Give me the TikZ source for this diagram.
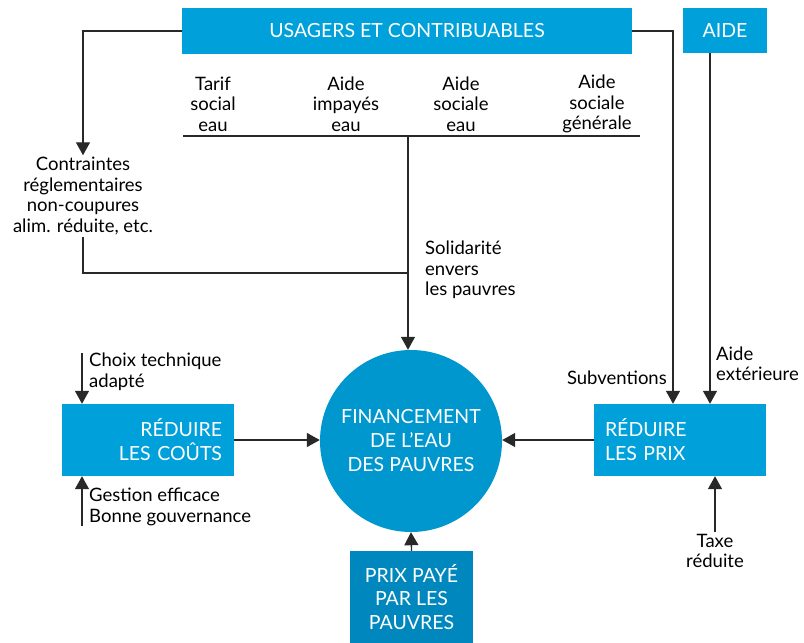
\documentclass[tikz,border=0pt]{standalone}
\usepackage{fontspec}
\setmainfont{Lato}
\usetikzlibrary{positioning,arrows.meta}
\definecolor{boxblue}{RGB}{0,160,218}
\definecolor{circblue}{RGB}{0,150,206}
\definecolor{deepblue}{RGB}{0,136,190}
\definecolor{linegray}{RGB}{40,40,40}

\begin{document}
\begin{tikzpicture}[x=1pt, y=-1pt,
  bluebox/.style={fill=boxblue, text=white, inner sep=0pt, align=center,
    font=\fontsize{19.5}{24}\selectfont},
  lbl/.style={inner sep=0pt, align=center, text=black,
    font=\fontsize{18.5}{20.5}\selectfont},
  wire/.style={line width=1.3pt, linegray},
  arr/.style={wire, -{Triangle[length=13pt, width=14pt]}},
]
  \useasboundingbox (0,0) rectangle (804,643);

  % blue blocks
  \node[bluebox, minimum width=450pt, minimum height=46pt] (users) at (407,31)
    {USAGERS ET CONTRIBUABLES};
  \node[bluebox, minimum width=84pt, minimum height=45pt] (aide) at (725,30.5)
    {AIDE};
  \node[bluebox, circle, fill=circblue, minimum size=182pt] (fin) at (411,441)
    {FINANCEMENT\\DE L'EAU\\DES PAUVRES};
  \node[bluebox, minimum height=72pt, text width=148pt, inner xsep=12pt,
    align=right] (couts) at (148,440) {RÉDUIRE\\LES COÛTS};
  \node[bluebox, minimum height=72pt, text width=150pt, inner xsep=11pt,
    align=left] (prix) at (680,440) {RÉDUIRE\\LES PRIX};
  \node[bluebox, fill=deepblue, minimum width=123pt, minimum height=92pt,
    font=\fontsize{19.5}{23.5}\selectfont] (paye) at (411.5,597)
    {PRIX PAYÉ\\PAR LES\\PAUVRES};

  % labels
  \node[lbl] (tarif) at (213,104) {Tarif\\social\\eau};
  \node[lbl] (impayes) at (346,104) {Aide\\impayés\\eau};
  \node[lbl] (sociale) at (461,104) {Aide\\sociale\\eau};
  \node[lbl] (generale) at (597,104) {Aide\\sociale\\générale};
  \node[lbl, outer sep=2pt] (constr) at (83,196)
    {Contraintes\\réglementaires\\non-coupures\\alim. réduite, etc.};
  \node[lbl, anchor=west, align=left] (solid) at (425,270)
    {Solidarité\\envers\\les pauvres};
  \node[lbl, anchor=west, align=left] (choix) at (89,372)
    {Choix technique\\adapté};
  \node[lbl, anchor=west, align=left] (gestion) at (89,507)
    {Gestion efficace\\Bonne gouvernance};
  \node[lbl, anchor=east] (subv) at (667,378) {Subventions};
  \node[lbl, anchor=west, align=left] (exter) at (716,364)
    {Aide\\extérieure};
  \node[lbl, outer sep=2pt] (taxe) at (715,551) {Taxe\\réduite};

  \coordinate (bar-l) at (183,136);
  \coordinate (bar-r) at (640,136);
  \coordinate (bar-m) at (408,136);
  \coordinate (join) at (408,273);

  % connectors
  \draw[wire] (bar-l) -- (bar-r);
  \draw[arr] (bar-m) -- (bar-m |- fin.north);
  \draw[arr] (users.west) -| (constr.north);
  \draw[wire] (constr.south) |- (join);
  \draw[arr] (users.east) -| ([xshift=-7pt]prix.north);
  \draw[arr] ([xshift=-15pt]aide.south) -- ([xshift=30pt]prix.north);
  \draw[arr] (taxe.north) -- (taxe.north |- prix.south);
  \draw[arr] ([xshift=-7pt]choix.north west) -- ([xshift=-7pt]choix.north west |- couts.north);
  \draw[arr] ([xshift=-7pt]gestion.south west) -- ([xshift=-7pt]gestion.south west |- couts.south);
  \draw[arr] (couts.east) -- (couts.east -| fin.west);
  \draw[arr] (prix.west) -- (prix.west -| fin.east);
  \draw[arr] (paye.north) -- (fin.south);
\end{tikzpicture}
\end{document}
